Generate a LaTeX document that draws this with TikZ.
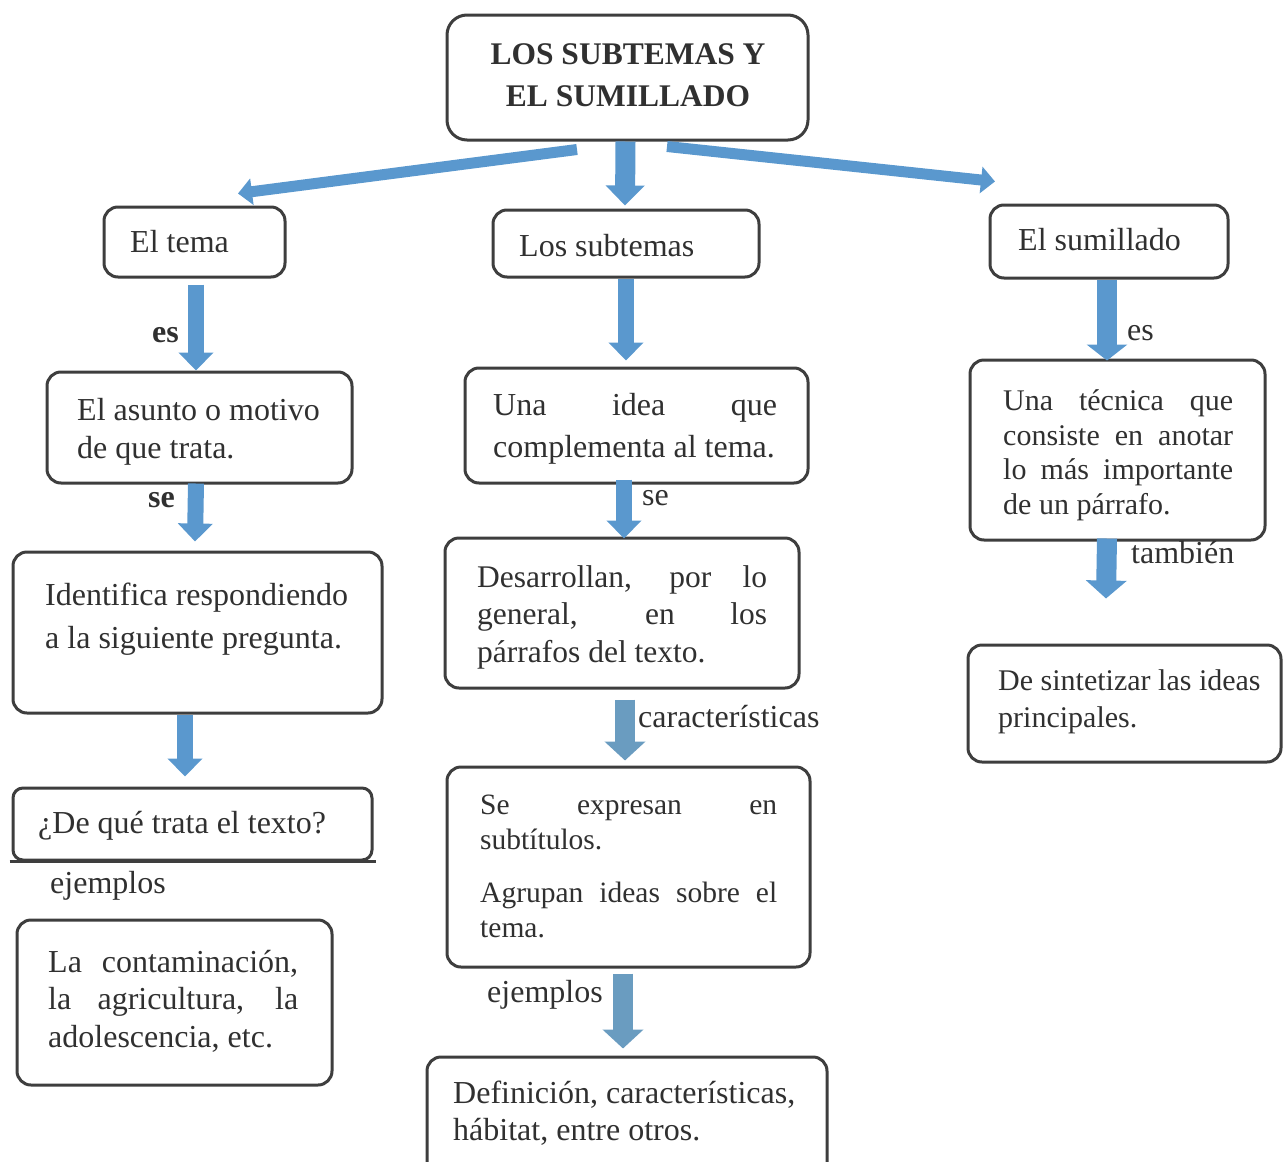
\documentclass[tikz,border=0pt]{standalone}
\usepackage{fontspec}
\setmainfont{Liberation Serif}
\usetikzlibrary{arrows.meta,calc,fit}
\definecolor{boxline}{RGB}{62,62,62}
\definecolor{txt}{RGB}{48,48,48}
\definecolor{blueA}{RGB}{90,152,206}
\definecolor{blueB}{RGB}{106,156,192}
\newcommand{\jl}[2]{{\spaceskip=0.25em plus 1fil\xspaceskip=0.25em plus 1fil\makebox[#1][s]{#2}}}
\begin{document}
\begin{tikzpicture}[x=1pt,y=-1pt,
  box/.style={draw=boxline,line width=3pt,rounded corners=14pt,inner sep=0pt},
  tnode/.style={inner sep=0pt,anchor=north west,align=left,text=txt},
  jnode/.style={inner sep=0pt,anchor=north west,align=justify,text=txt},
  lbl/.style={inner sep=0pt,anchor=base west,text=txt,font=\fontsize{32}{38}\selectfont},
  barrow/.style={draw=blueA,line width=16pt,-{Triangle[width=34pt,length=18pt]}},
  barrowB/.style={draw=blueB,line width=20pt,-{Triangle[width=40pt,length=19pt]}},
  darrow/.style={draw=blueA,line width=11pt,-{Triangle[width=26pt,length=14pt]}}
]
\useasboundingbox (0,0) rectangle (1283,1162);
\clip (0,0) rectangle (1283,1162);

% ---------- boxes ----------
\node[box,rounded corners=20pt,fit={(447,15) (808,140)}] (title) {};
\node[box,fit={(104,207) (285,277)}] (tema) {};
\node[box,fit={(493,210) (759,277)}] (subt) {};
\node[box,fit={(990,205) (1228,278)}] (sumi) {};
\node[box,fit={(47,372) (352,483)}] (asunto) {};
\node[box,fit={(465,368) (808,483)}] (idea) {};
\node[box,fit={(970,360) (1265,540)}] (tecnica) {};
\node[box,fit={(13,552) (382,713)}] (ident) {};
\node[box,fit={(445,538) (799,688)}] (desarr) {};
\node[box,fit={(968,645) (1281,762)}] (sinte) {};
\node[box,rounded corners=10pt,fit={(13,788) (372,860)}] (que) {};
\draw[draw=boxline,line width=3.5pt] ($(que.south west)+(-2,0)$) -- ($(que.south east)+(2,0)$);
\node[box,fit={(17,920) (332,1085)}] (contam) {};
\node[box,fit={(447,767) (810,967)}] (expresan) {};
\node[box,fit={(427,1057) (827,1180)}] (defin) {};

% ---------- texts ----------
\node[tnode,anchor=north,align=center,font=\fontsize{31.5}{42}\selectfont\bfseries] (ttitle) at (628,43) {LOS SUBTEMAS Y\\EL SUMILLADO};
\node[lbl] (ttema) at (130,252) {El tema};
\node[lbl] (tsubt) at (519,256) {Los subtemas};
\node[lbl] (tsumi) at (1018,250) {El sumillado};
\node[tnode,font=\fontsize{32}{38}\selectfont] (tasunto) at (77,398) {El asunto o motivo\\de que trata.};
\node[jnode,text width=320pt,font=\fontsize{32}{42}\selectfont] (tidea) at (493,393)
  {\jl{284pt}{Una idea que}\\complementa al tema.};
\node[jnode,text width=260pt,font=\fontsize{30}{34.5}\selectfont] (ttecnica) at (1003,389.5)
  {\jl{230pt}{Una técnica que}\\\jl{230pt}{consiste en anotar}\\\jl{230pt}{lo más importante}\\de un párrafo.};
\node[tnode,font=\fontsize{32}{43}\selectfont] (tident) at (45,583) {Identifica respondiendo\\a la siguiente pregunta.};
\node[jnode,text width=320pt,font=\fontsize{31.5}{37.5}\selectfont] (tdesarr) at (477,565)
  {\jl{290pt}{Desarrollan, por lo}\\\jl{290pt}{general, en los}\\párrafos del texto.};
\node[tnode,font=\fontsize{30}{37}\selectfont] (tsinte) at (998,669.5) {De sintetizar las ideas\\principales.};
\node[lbl] (tque) at (38,833) {¿De qué trata el texto?};
\node[jnode,text width=280pt,font=\fontsize{32}{37.5}\selectfont] (tcontam) at (48,950)
  {\jl{250pt}{La contaminación,}\\\jl{250pt}{la agricultura, la}\\adolescencia, etc.};
\node[jnode,text width=320pt,font=\fontsize{29.5}{35}\selectfont] (texpresan) at (480,794.5)
  {\jl{297pt}{Se expresan en}\\subtítulos.\\[18pt]\jl{297pt}{Agrupan ideas sobre el}\\tema.};
\node[tnode,font=\fontsize{32}{37}\selectfont] (tdefin) at (453,1081) {Definición, características,\\hábitat, entre otros.};

% ---------- connector labels ----------
\node[lbl,font=\fontsize{32}{38}\selectfont\bfseries] (les) at (152,342) {es};
\node[lbl,font=\fontsize{32}{38}\selectfont\bfseries] (lse) at (148,507) {se};
\node[lbl] (lej1) at (50,893) {ejemplos};
\node[lbl] (lse2) at (642,505) {se};
\node[lbl] (lcar) at (638,727) {características};
\node[lbl] (lej2) at (487,1002) {ejemplos};
\node[lbl] (les2) at (1127,340) {es};
\node[lbl] (ltam) at (1131,563) {también};

% ---------- connectors ----------
\draw[darrow] ($(title.south)+(-50.5,8)$) -- ($(tema.north)+(43.5,-12)$);
\draw[darrow] ($(title.south)+(39.5,5)$) -- ($(sumi.north)+(-114,-22)$);
\draw[barrow,line width=20pt,-{Triangle[width=38pt,length=20pt]}] ($(title.south)+(-2,0)$) -- ($(subt.north)+(-1,-3)$);
\draw[barrow] ($(tema.south)+(1.5,6)$) -- ($(asunto.north)+(-3.5,0)$);
\draw[barrow] ($(asunto.south)+(-3.5,-1)$) -- ($(ident.north)+(-2.5,-9)$);
\draw[barrow] ($(ident.south)+(-12.5,0)$) -- ($(que.north)+(-7.5,-10)$);
\draw[barrow] ($(subt.south)+(0,0)$) -- ($(idea.north)+(-10.5,-6)$);
\draw[barrow] ($(idea.south)+(-12.5,-5)$) -- ($(desarr.north)+(2,2)$);
\draw[barrowB] ($(desarr.south)+(3,10)$) -- ($(expresan.north)+(-3.5,-5)$);
\draw[barrowB] ($(expresan.south)+(-5.5,5)$) -- ($(defin.north)+(-4,-7)$);
\draw[barrow,line width=20pt,-{Triangle[width=40pt,length=16pt]}] ($(sumi.south)+(-2,0)$) -- ($(tecnica.north)+(-10.5,2)$);
\draw[barrow,line width=20pt,-{Triangle[width=40pt,length=18pt]}] ($(tecnica.south)+(-10.5,-3)$) -- ($(sinte.north)+(-18.5,-45)$);
\end{tikzpicture}
\end{document}
